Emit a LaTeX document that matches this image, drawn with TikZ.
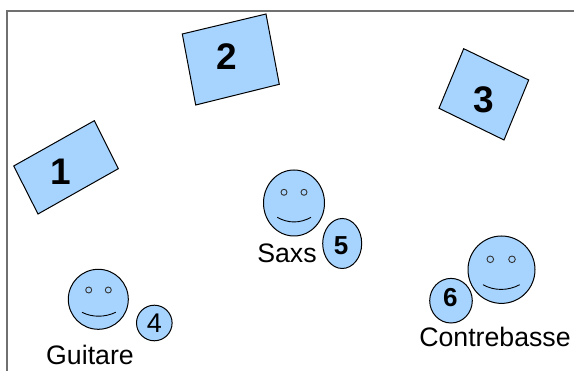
\documentclass[tikz,border=0pt]{standalone}
\usepackage{fontspec}
\setmainfont{Liberation Sans}
\definecolor{panel}{HTML}{A6D4FF}
\definecolor{framegray}{HTML}{707070}
\tikzset{
  shapeline/.style={draw=black,line width=1pt,fill=panel,line join=miter},
  eyeball/.style={draw=black!80,line width=0.9pt,fill=panel},
  smile/.style={draw=black,line width=0.9pt},
  bignum/.style={inner sep=0pt,font=\fontsize{37}{37}\selectfont\bfseries},
  midnum/.style={inner sep=0pt,font=\fontsize{26}{26}\selectfont\bfseries},
  plainnum/.style={inner sep=0pt,font=\fontsize{27}{27}\selectfont},
  caption/.style={inner sep=0pt,anchor=base,font=\fontsize{26.7}{26.7}\selectfont},
}
\begin{document}
\begin{tikzpicture}[x=1pt,y=-1pt]
\useasboundingbox (0,0) rectangle (574,371);
\fill[white] (0,0) rectangle (574,371);
\draw[framegray,line width=1.3pt] (7,371) -- (7,11) -- (574,11);
% stands
\draw[shapeline] (13.7,166) -- (94.3,120.7) -- (118.3,168.7) -- (38,214) -- cycle;
\draw[shapeline] (182.3,34) -- (266,14) -- (279.3,84.3) -- (195.7,105) -- cycle;
\draw[shapeline] (463.7,48.7) -- (528.7,80) -- (504,140) -- (439,108.3) -- cycle;
\node[bignum] (n1) at (61,172) {1};
\node[bignum] (n2) at (226.8,56.7) {2};
\node[bignum] (n3) at (483.5,100) {3};
% Guitare
\draw[shapeline] (98.3,299.3) ellipse [x radius=30,y radius=30];
\draw[eyeball] (88.7,290) circle (3);
\draw[eyeball] (108.3,290) circle (3);
\draw[smile] (82,312.3) .. controls (92,317.5) and (105,317.5) .. (115.7,312.3);
\draw[shapeline] (154.3,323) circle (17.8);
\node[plainnum] (n4) at (154.3,323) {4};
\node[caption] (guitare) at (90,365) {Guitare};
% Saxs
\draw[shapeline] (294,203) ellipse [x radius=30.5,y radius=33];
\draw[eyeball] (284,192.3) circle (3);
\draw[eyeball] (304,192.3) circle (3);
\draw[smile] (277.3,217.3) .. controls (288,223.5) and (300,223.5) .. (311,217.3);
\draw[shapeline] (342.2,243.5) ellipse [x radius=19.5,y radius=25];
\node[midnum] (n5) at (341,245.3) {5};
\node[caption] (saxs) at (287,262.3) {Saxs};
% Contrebasse
\draw[shapeline] (501.5,269.7) ellipse [x radius=33.5,y radius=33.7];
\draw[eyeball] (490.3,259.3) circle (3.3);
\draw[eyeball] (512,259.3) circle (3.3);
\draw[smile] (483,284.7) .. controls (494,291) and (508,291) .. (519.7,284.7);
\draw[shapeline] (451,300.7) ellipse [x radius=21.3,y radius=22.3];
\node[midnum] (n6) at (450.3,297.7) {6};
\node[caption] (contrebasse) at (495,346.7) {Contrebasse};
\end{tikzpicture}
\end{document}
